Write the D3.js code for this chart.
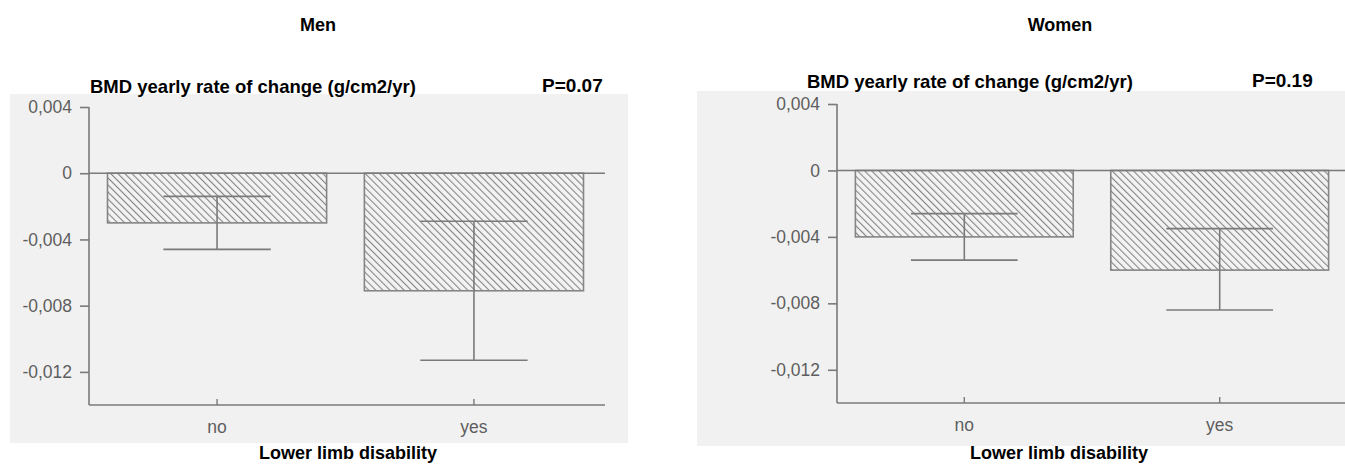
<!DOCTYPE html>
<html>
<head>
<meta charset="utf-8">
<script src="https://cdn.jsdelivr.net/npm/d3@7"></script>
<style>
  html, body { margin: 0; padding: 0; background: #fff; }
  svg { display: block; }
  .bold { font-family: "Liberation Sans", Arial, Helvetica, sans-serif; font-weight: bold; fill: #000; }
  .tick-label { font-family: "Liberation Sans", Arial, Helvetica, sans-serif; fill: #5e5e5e; }
</style>
</head>
<body>
<svg id="chart" width="1345" height="464"></svg>
<script>
// ---- data ----
const categories = ["no", "yes"];
const menMean = [-0.0030, -0.0071];
const menLow = [-0.0046, -0.0113];
const menHigh = [-0.0014, -0.0029];
const womenMean = [-0.0040, -0.0060];
const womenLow = [-0.0054, -0.0084];
const womenHigh = [-0.0026, -0.0035];
const yTicks = [0.004, 0, -0.004, -0.008, -0.012];
const yTickLabels = ["0,004", "0", "-0,004", "-0,008", "-0,012"];
const yDomain = [-0.014, 0.004];
const panelTitles = ["Men", "Women"];
const yTitle = "BMD yearly rate of change (g/cm2/yr)";
const pLabels = ["P=0.07", "P=0.19"];
const xTitle = "Lower limb disability";

const svg = d3.select("#chart");

// hatch pattern (lines running top-left to bottom-right)
const defs = svg.append("defs");
const pat = defs.append("pattern")
  .attr("id", "hatch")
  .attr("patternUnits", "userSpaceOnUse")
  .attr("width", 5).attr("height", 5)
  .attr("patternTransform", "rotate(-45)");
pat.append("rect").attr("width", 5).attr("height", 5).attr("fill", "#f3f3f3");
pat.append("line").attr("x1", 0).attr("y1", 0).attr("x2", 0).attr("y2", 5)
  .attr("stroke", "#858585").attr("stroke-width", 2.2);

const panels = [
  { mean: menMean, low: menLow, high: menHigh, title: panelTitles[0], p: pLabels[0],
    bg: [10, 94, 618, 349], axisX: 89, xEnd: 605, bandRange: [89, 602], yRange: [405, 107],
    titleX: 318, subX: 90, subY: 93, pX: 542, pY: 92, xTitleX: 348, xTitleY: 459 },
  { mean: womenMean, low: womenLow, high: womenHigh, title: panelTitles[1], p: pLabels[1],
    bg: [697, 91, 648, 355], axisX: 837, xEnd: 1345, bandRange: [837, 1347], yRange: [403, 104],
    titleX: 1060, subX: 807, subY: 88, pX: 1252, pY: 87, xTitleX: 1059, xTitleY: 459 }
];

const gray = "#7a7a7a";

panels.forEach(P => {
  const g = svg.append("g");
  g.append("rect").attr("x", P.bg[0]).attr("y", P.bg[1]).attr("width", P.bg[2]).attr("height", P.bg[3])
    .attr("fill", "#f1f1f1");

  const y = d3.scaleLinear().domain(yDomain).range(P.yRange);
  const x = d3.scaleBand().domain(categories).range(P.bandRange)
    .paddingInner(0.147).paddingOuter(0.072);

  // titles
  g.append("text").attr("class", "bold").attr("x", P.titleX).attr("y", 31)
    .attr("text-anchor", "middle").style("font-size", "18px").text(P.title);
  g.append("text").attr("class", "bold").attr("x", P.subX).attr("y", P.subY)
    .style("font-size", "18.5px").text(yTitle);
  g.append("text").attr("class", "bold").attr("x", P.pX).attr("y", P.pY)
    .style("font-size", "19px").text(P.p);
  g.append("text").attr("class", "bold").attr("x", P.xTitleX).attr("y", P.xTitleY)
    .attr("text-anchor", "middle").style("font-size", "18px").text(xTitle);

  // bars
  const idx = d3.range(categories.length);
  g.selectAll("rect.bar").data(idx).join("rect")
    .attr("class", "bar")
    .attr("x", i => x(categories[i]))
    .attr("width", x.bandwidth())
    .attr("y", i => y(Math.max(0, P.mean[i])))
    .attr("height", i => Math.abs(y(P.mean[i]) - y(0)))
    .attr("fill", "url(#hatch)")
    .attr("stroke", "#858585").attr("stroke-width", 1.6);

  // error bars
  const capW = x.bandwidth() * 0.49;
  idx.forEach(i => {
    const cx = x(categories[i]) + x.bandwidth() / 2;
    g.append("line").attr("x1", cx).attr("x2", cx)
      .attr("y1", y(P.high[i])).attr("y2", y(P.low[i]))
      .attr("stroke", gray).attr("stroke-width", 1.6);
    [P.high[i], P.low[i]].forEach(v => {
      g.append("line").attr("x1", cx - capW / 2).attr("x2", cx + capW / 2)
        .attr("y1", y(v)).attr("y2", y(v))
        .attr("stroke", gray).attr("stroke-width", 1.6);
    });
  });

  // zero line
  g.append("line").attr("x1", P.axisX).attr("x2", P.xEnd)
    .attr("y1", y(0)).attr("y2", y(0))
    .attr("stroke", gray).attr("stroke-width", 1.6);

  // y axis
  const yAxis = d3.axisLeft(y).tickValues(yTicks)
    .tickFormat((d, i) => yTickLabels[i]).tickSize(9).tickPadding(8);
  const ya = g.append("g").attr("transform", `translate(${P.axisX},0)`).call(yAxis);
  ya.select(".domain").remove();
  ya.selectAll(".tick line").attr("stroke", gray).attr("stroke-width", 1.6);
  ya.selectAll(".tick text").attr("class", "tick-label").style("font-size", "17.5px");
  g.append("line").attr("x1", P.axisX).attr("x2", P.axisX)
    .attr("y1", y(yDomain[1])).attr("y2", y(yDomain[0]))
    .attr("stroke", gray).attr("stroke-width", 1.6);

  // x axis
  const xAxis = d3.axisBottom(x).tickSize(-6).tickPadding(16);
  const xa = g.append("g").attr("transform", `translate(0,${y(yDomain[0])})`).call(xAxis);
  xa.select(".domain").remove();
  xa.selectAll(".tick line").attr("stroke", gray).attr("stroke-width", 1.4);
  xa.selectAll(".tick text").attr("class", "tick-label").style("font-size", "17.5px");
  g.append("line").attr("x1", P.axisX).attr("x2", P.xEnd)
    .attr("y1", y(yDomain[0])).attr("y2", y(yDomain[0]))
    .attr("stroke", gray).attr("stroke-width", 1.6);
});
</script>
</body>
</html>
